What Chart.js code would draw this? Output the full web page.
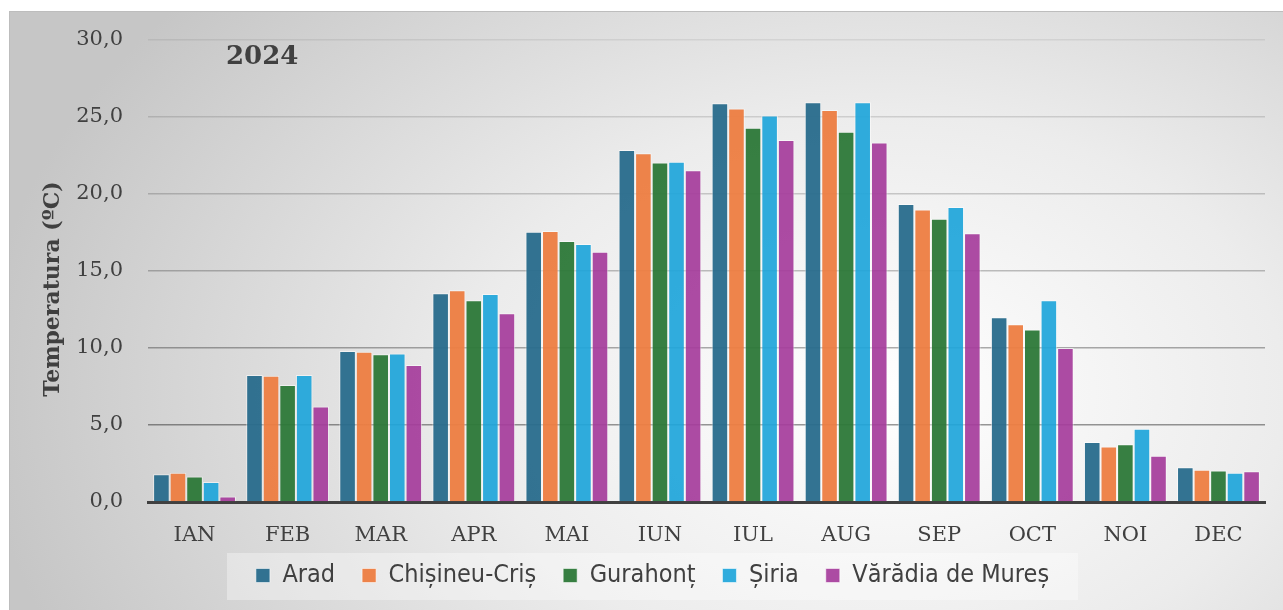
<!DOCTYPE html>
<html>
<head>
<meta charset="utf-8">
<script src="https://cdn.jsdelivr.net/npm/chart.js@4"></script>
<style>
  html, body { margin: 0; padding: 0; background: #ffffff; }
  #wrap { position: relative; width: 1283px; height: 610px; }
  #bg {
    position: absolute; left: 9px; top: 11px; width: 1274px; height: 599px;
    border-left: 1px solid #bdbdbd; border-top: 1px solid #bdbdbd; box-sizing: border-box;
    background: radial-gradient(ellipse 900px 620px at 870px 380px, #ffffff 0%, #ececec 45%, #c6c6c6 100%);
  }
  #chartCanvas { position: absolute; left: 0; top: 0; }
</style>
</head>
<body>
<div id="wrap">
  <div id="bg"></div>
  <canvas id="chartCanvas" width="1283" height="610"></canvas>
</div>
<script>
// luni si statii (2024)
var months = ['IAN', 'FEB', 'MAR', 'APR', 'MAI', 'IUN', 'IUL', 'AUG', 'SEP', 'OCT', 'NOI', 'DEC']
var yearTitle = '2024'
var yTitle = 'Temperatura (ºC)'

var arad      = [1.8, 8.25, 9.8, 13.55, 17.55, 22.85, 25.9, 25.95, 19.35, 12.0, 3.9, 2.25]
var chisineu  = [1.9, 8.2, 9.75, 13.75, 17.6, 22.65, 25.55, 25.45, 19.0, 11.55, 3.6, 2.1]
var gurahont  = [1.65, 7.6, 9.6, 13.1, 16.95, 22.05, 24.3, 24.05, 18.4, 11.2, 3.75, 2.05]
var siria     = [1.3, 8.25, 9.65, 13.5, 16.75, 22.1, 25.1, 25.95, 19.15, 13.1, 4.75, 1.9]
var varadia   = [0.35, 6.2, 8.9, 12.25, 16.25, 21.55, 23.5, 23.35, 17.45, 10.0, 3.0, 2.0]

var seriesNames = ['Arad', 'Chișineu-Criș', 'Gurahonț', 'Șiria', 'Vărădia de Mureș']
var seriesData = [arad, chisineu, gurahont, siria, varadia]
var colorList = ['rgba(40,108,140,0.95)', 'rgba(237,125,65,0.95)', 'rgba(44,120,56,0.95)', 'rgba(30,165,218,0.92)', 'rgba(165,60,155,0.92)']

var textColor = '#404040'

var datasets = seriesNames.map((name, i) => {
    return {
        label: name,
        data: seriesData[i],
        backgroundColor: colorList[i],
        borderColor: 'rgba(255,255,255,0.55)',
        borderWidth: 1,
        borderSkipped: 'bottom'
    }
})

// baggrund for legenden, aarstal og y-titel
var extras = {
    id: 'extras',
    beforeDraw(chart) {
        var ctx = chart.ctx
        ctx.save()
        ctx.fillStyle = 'rgba(255,255,255,0.35)'
        ctx.fillRect(227, 553, 851, 47)
        ctx.restore()
    },
    afterDraw(chart) {
        var ctx = chart.ctx
        ctx.save()
        ctx.fillStyle = textColor
        ctx.font = 'bold 26px "DejaVu Serif", serif'
        ctx.textBaseline = 'middle'
        ctx.fillText(yearTitle, 226, 57)
        // y-titlen sidder lidt under midten i originalen
        ctx.translate(53, 289)
        ctx.rotate(-Math.PI / 2)
        ctx.textAlign = 'center'
        ctx.font = 'bold 22px "DejaVu Serif", serif'
        ctx.fillText(yTitle, 0, 0)
        ctx.restore()
    }
}

var gridAlpha = { 30: 0.07, 25: 0.13, 20: 0.18, 15: 0.24, 10: 0.32, 5: 0.4, 0: 0 }

const canvasChart = document.getElementById('chartCanvas')
var myChart = new Chart(canvasChart, {
    type: 'bar',
    data: { labels: months, datasets: datasets },
    plugins: [extras],
    options: {
        responsive: false,
        animation: false,
        layout: { padding: { left: 40, right: 18, top: 40, bottom: 17 } },
        datasets: { bar: { categoryPercentage: 0.89, barPercentage: 1.0 } },
        scales: {
            x: {
                grid: { display: false, drawTicks: false },
                border: { display: true, color: '#404040', width: 3 },
                ticks: { color: textColor, padding: 21, font: { family: '"DejaVu Serif", serif', size: 21 } },
                afterFit: s => {
                    s.height = 34
                    // labels stikker ned i legend-feltet, så ingen clipping
                    s._computeLabelArea = () => undefined
                }
            },
            y: {
                min: 0, max: 30,
                z: 1,
                border: { display: false },
                grid: {
                    drawTicks: false,
                    lineWidth: 1.5,
                    color: c => 'rgba(0,0,0,' + (gridAlpha[c.tick.value] ?? 0.1) + ')'
                },
                ticks: {
                    stepSize: 5, padding: 25, color: textColor,
                    font: { family: '"DejaVu Serif", serif', size: 21 },
                    callback: v => v.toFixed(1).replace('.', ',')
                },
                afterFit: s => { s.width = 108 }
            }
        },
        plugins: {
            tooltip: { enabled: false },
            legend: {
                position: 'bottom',
                maxHeight: 57,
                labels: {
                    color: textColor,
                    boxWidth: 14, boxHeight: 14,
                    padding: 27,
                    font: { family: '"DejaVu Sans Condensed", "Liberation Sans Narrow", sans-serif', size: 25 }
                }
            }
        }
    }
})
</script>
</body>
</html>
